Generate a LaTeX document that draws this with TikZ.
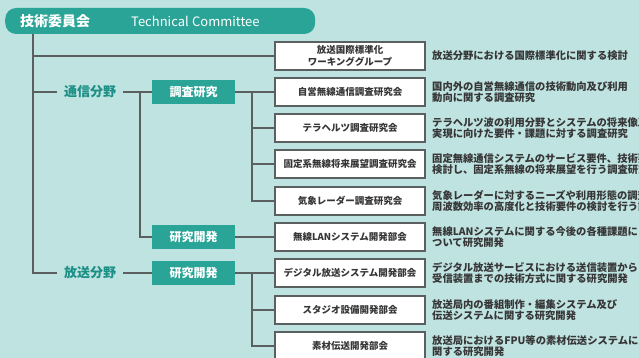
\documentclass[tikz,border=0pt]{standalone}
\usepackage{fontspec}
\setmainfont{Noto Sans CJK JP}
\usetikzlibrary{positioning}
\definecolor{bgteal}{HTML}{BFE3E0}
\definecolor{headteal}{HTML}{2AA497}
\definecolor{labteal}{HTML}{1C8F86}
\definecolor{wire}{HTML}{5A5F5F}
\definecolor{ink}{HTML}{363636}
\tikzset{x=1pt, y=-1pt, % one unit is one pixel of the reference
committee/.style={ % Title bar on top
fill=headteal, text=white, rounded corners=11pt,
minimum height=26pt, inner xsep=15pt, align=left, anchor=west},
fieldlabel/.style={ % Free text labels of the two fields
text=labteal, inner xsep=7pt,
font=\fontsize{13}{15}\selectfont\bfseries},
groupbox/.style={ % Filled teal boxes
fill=headteal, text=white, minimum width=83pt, minimum height=24pt,
font=\fontsize{12}{14}\selectfont\bfseries},
unitbox/.style={ % White boxes of the working groups
draw=wire, fill=white, line width=1.3pt, text=ink,
minimum width=150pt, minimum height=28pt, align=center,
font=\fontsize{9.5}{12}\selectfont\bfseries},
notetext/.style={ % Descriptions on the right
anchor=west, inner sep=0pt, align=left, text=ink,
font=\fontsize{10.3}{11.5}\selectfont\bfseries},
wireline/.style={ % Connectors
draw=wire, line width=1.3pt}}

\begin{document}
\begin{tikzpicture}
				\useasboundingbox (0,0) rectangle (639,358);
				\clip (0,0) rectangle (639,358);
				\fill[bgteal] (0,0) rectangle (639,358);

				\node[committee, text width=280pt] (tc) at (5,21)
					{\fontsize{14}{16}\selectfont\bfseries 技術委員会\hspace{41pt}\fontsize{13}{15}\selectfont\mdseries Technical Committee};

				% fields and groups
				\node[fieldlabel] (tsushin) at (90,92) {通信分野};
				\node[fieldlabel] (hoso) at (90,273) {放送分野};
				\node[groupbox] (chosa) at (193.5,92) {調査研究};
				\node[groupbox] (kaihatsuA) at (193.5,237) {研究開発};
				\node[groupbox] (kaihatsuB) at (193.5,273) {研究開発};

				% working groups
				\node[unitbox] (wg) at (350,56) {放送国際標準化\\ワーキンググループ};
				\node[unitbox] (jiei) at (350,92) {自営無線通信調査研究会};
				\node[unitbox] (thz) at (350,128) {テラヘルツ調査研究会};
				\node[unitbox] (kotei) at (350,164) {固定系無線将来展望調査研究会};
				\node[unitbox] (kisho) at (350,201) {気象レーダー調査研究会};
				\node[unitbox] (wlan) at (350,237) {無線LANシステム開発部会};
				\node[unitbox] (digital) at (350,273) {デジタル放送システム開発部会};
				\node[unitbox] (studio) at (350,310) {スタジオ設備開発部会};
				\node[unitbox] (sozai) at (350,346) {素材伝送開発部会};

				% descriptions
				\node[notetext] (wgN) at (432,56) {放送分野における国際標準化に関する検討};
				\node[notetext] (jieiN) at (432,92) {国内外の自営無線通信の技術動向及び利用\\動向に関する調査研究};
				\node[notetext] (thzN) at (432,128) {テラヘルツ波の利用分野とシステムの将来像及び\\実現に向けた要件・課題に対する調査研究};
				\node[notetext] (koteiN) at (432,164) {固定無線通信システムのサービス要件、技術要件等を\\検討し、固定系無線の将来展望を行う調査研究};
				\node[notetext] (kishoN) at (432,201) {気象レーダーに対するニーズや利用形態の調査及び\\周波数効率の高度化と技術要件の検討を行う調査研究};
				\node[notetext] (wlanN) at (432,237) {無線LANシステムに関する今後の各種課題に\\ついて研究開発};
				\node[notetext] (digitalN) at (432,273) {デジタル放送サービスにおける送信装置から\\受信装置までの技術方式に関する研究開発};
				\node[notetext] (studioN) at (432,310) {放送局内の番組制作・編集システム及び\\伝送システムに関する研究開発};
				\node[notetext] (sozaiN) at (432,346) {放送局におけるFPU等の素材伝送システムに\\関する研究開発};

				% junctions
				\coordinate (trunk) at (33,34);
				\coordinate (tsJ) at (140,92);
				\coordinate (chJ) at (252,92);
				\coordinate (hoJ) at (252,273);

				\draw[wireline] (trunk) |- (wg.west);
				\draw[wireline] (trunk) |- (tsushin.west);
				\draw[wireline] (trunk) |- (hoso.west);

				\draw[wireline] (tsushin.east) -- (chosa.west);
				\draw[wireline] (tsJ) |- (kaihatsuA.west);
				\draw[wireline] (chosa.east) -- (jiei.west);
				\draw[wireline] (chJ) |- (thz.west);
				\draw[wireline] (chJ) |- (kotei.west);
				\draw[wireline] (chJ) |- (kisho.west);
				\draw[wireline] (kaihatsuA.east) -- (wlan.west);

				\draw[wireline] (hoso.east) -- (kaihatsuB.west);
				\draw[wireline] (kaihatsuB.east) -- (digital.west);
				\draw[wireline] (hoJ) |- (studio.west);
				\draw[wireline] (hoJ) |- (sozai.west);
			\end{tikzpicture}
\end{document}
